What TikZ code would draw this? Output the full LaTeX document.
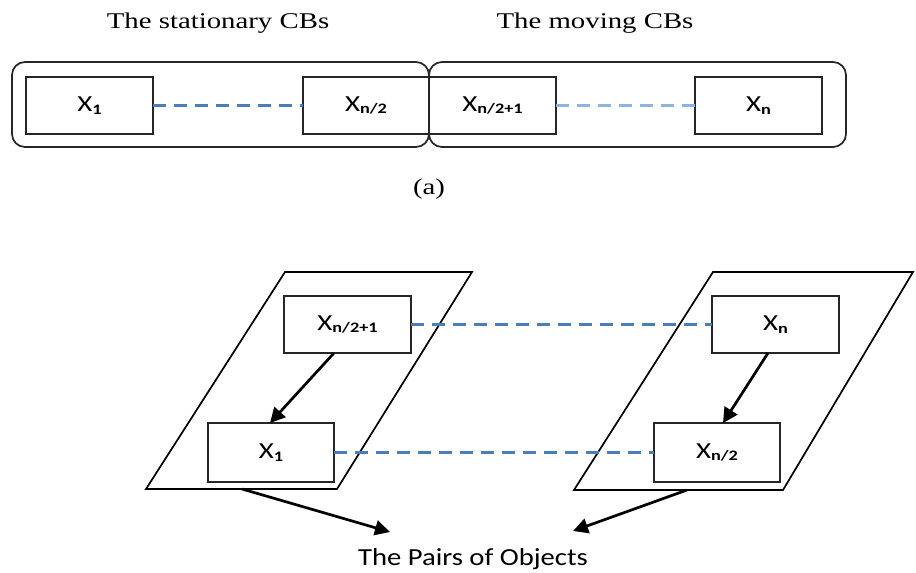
\documentclass[tikz,border=0pt]{standalone}
\usepackage{fontspec}
\usepackage{graphicx}
\setmainfont{Liberation Serif}
\newfontfamily\calfont{Carlito}
\usetikzlibrary{arrows.meta,calc}
\definecolor{dashA}{HTML}{4A7EBB}
\definecolor{dashB}{HTML}{8FB3E0}
\definecolor{boxline}{HTML}{262626}
\newcommand{\xlab}[1]{\scalebox{1.26}[1]{\calfont\fontsize{23}{23}\selectfont X\raisebox{-2.7pt}{\fontsize{14.5}{14.5}\selectfont\bfseries #1}}}
\newcommand{\serlab}[1]{\scalebox{1.28}[1]{\fontsize{22.5}{22.5}\selectfont #1}}
\tikzset{
  objbox/.style={draw=boxline,line width=1.4pt,fill=white,minimum width=127pt,minimum height=57pt,inner sep=0pt,outer sep=0pt},
  groupbox/.style={draw=black!85,line width=1.7pt,rounded corners=13pt},
  plane/.style={draw=black,line width=1.7pt,line join=miter},
  dashlink/.style={line width=2.2pt,dash pattern=on 13pt off 8pt},
  arr/.style={draw=black,line width=2.7pt,-{Triangle[length=15pt,width=15pt]}},
  title/.style={inner sep=0pt,anchor=base}
}
\begin{document}
\begin{tikzpicture}[x=1pt,y=-1pt]
\useasboundingbox (0,0) rectangle (916,573);

% ---- part (a) ----
\node[title] (t1) at (218,28) {\serlab{The stationary CBs}};
\node[title] (t2) at (595,28) {\serlab{The moving CBs}};

\draw[groupbox] (12,62) rectangle (429,147);
\draw[groupbox] (429,62) rectangle (846,147);

\node[objbox] (a1) at (89.5,105.5) {\xlab{1}};
\node[objbox,minimum width=126pt] (a2) at (366,105.5) {\xlab{n/2}};
\node[objbox] (a3) at (492.5,105.5) {\xlab{n/2+1}};
\node[objbox] (a4) at (758.5,105.5) {\xlab{n}};

\draw[dashlink,dashA] (a1.east) -- (a2.west);
\draw[dashlink,dashB] (a3.east) -- (a4.west);

\node[title] (alab) at (429,194) {\serlab{(a)}};

% ---- part (b) ----
\coordinate (p1a) at (146,489);
\coordinate (p1b) at (337,489);
\coordinate (p1c) at (472,272);
\coordinate (p1d) at (285,272);
\draw[plane] (p1a) -- (p1b) -- (p1c) -- (p1d) -- cycle;

\coordinate (p2a) at (574,490);
\coordinate (p2b) at (783,490);
\coordinate (p2c) at (913,272);
\coordinate (p2d) at (713,272);
\draw[plane] (p2a) -- (p2b) -- (p2c) -- (p2d) -- cycle;

\node[objbox] (b1) at (347.5,324.5) {\xlab{n/2+1}};
\node[objbox,minimum width=126pt,minimum height=59pt] (b2) at (271,452.5) {\xlab{1}};
\node[objbox] (b3) at (775.5,324.5) {\xlab{n}};
\node[objbox,minimum width=126pt,minimum height=59pt] (b4) at (717,452.5) {\xlab{n/2}};

\draw[dashlink,dashA] (b1.east) -- (b3.west);
\draw[dashlink,dashA] (b2.east) -- (b4.west);

\draw[arr] ([xshift=-13.5pt]b1.south) -- ([xshift=-1pt]b2.north);
\draw[arr] ([xshift=-7.5pt]b3.south) -- ([xshift=6pt]b4.north);

\node[title] (pairs) at (473,565) {\scalebox{1.17}[1]{\calfont\fontsize{24.5}{24.5}\selectfont The Pairs of Objects}};
\coordinate (s1) at (242,489);
\coordinate (s2) at (687,490);
\coordinate (e1) at (390,532);
\coordinate (e2) at (573,531);
\draw[arr] (s1) -- (e1);
\draw[arr] (s2) -- (e2);
\end{tikzpicture}
\end{document}
